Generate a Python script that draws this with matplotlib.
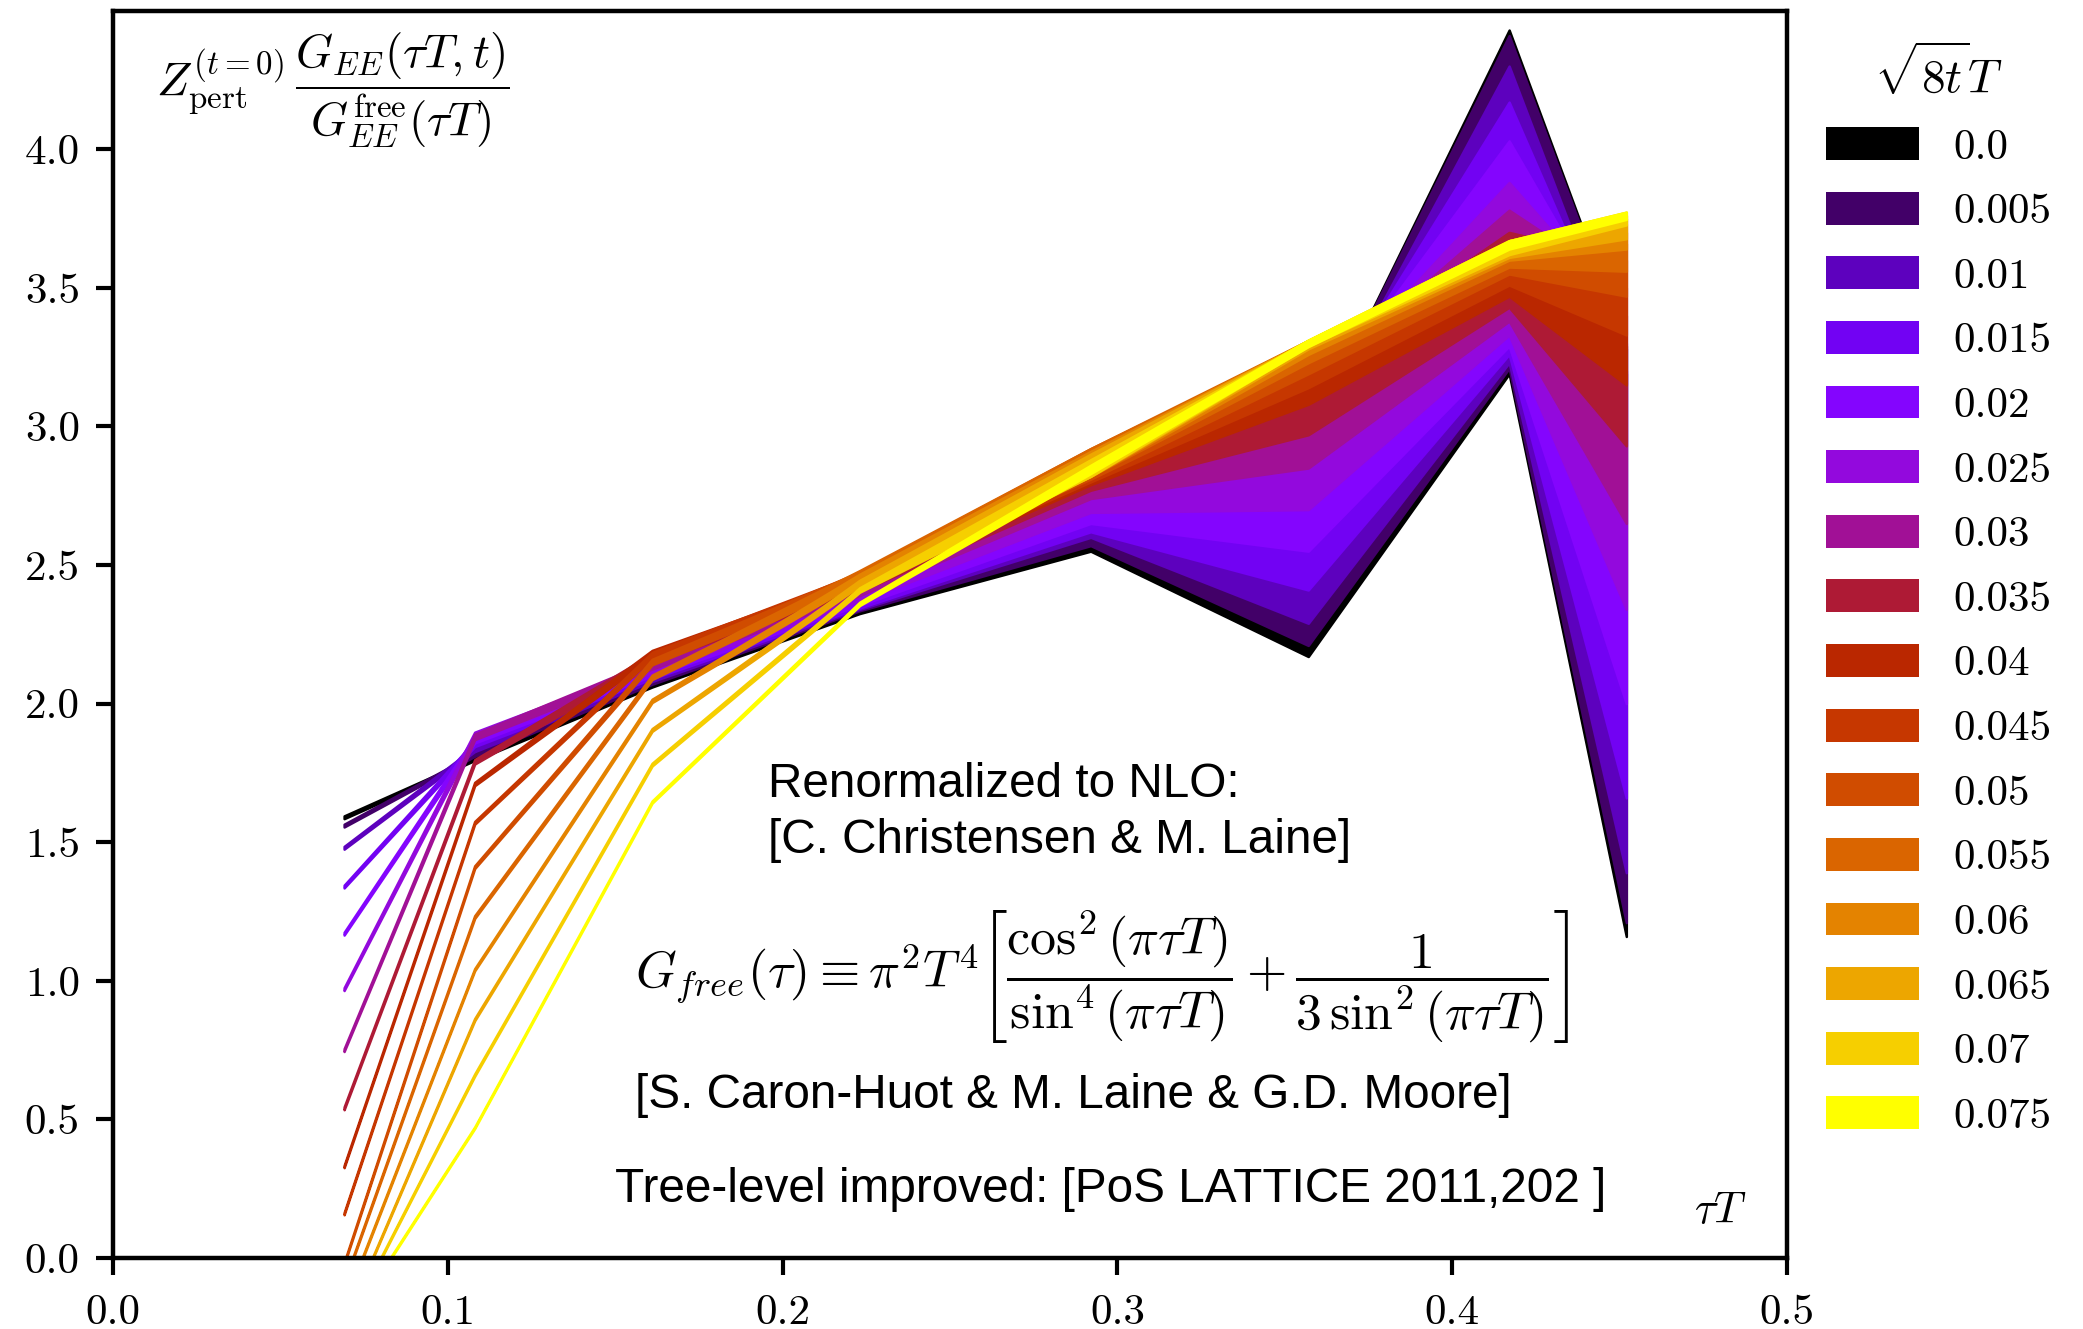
import matplotlib
matplotlib.use('Agg')
import matplotlib.pyplot as plt
from matplotlib.patches import Patch
import numpy as np

plt.rcParams['mathtext.fontset'] = 'cm'
plt.rcParams['font.family'] = ['cmr10']
plt.rcParams['axes.formatter.use_mathtext'] = True

# tau*T positions of the correlator points
tauT = [0.069, 0.108, 0.161, 0.223, 0.292, 0.357, 0.417, 0.452]

# flow radius sqrt(8t)T for each curve
flow_labels = ['0.0', '0.005', '0.01', '0.015', '0.02', '0.025', '0.03', '0.035',
               '0.04', '0.045', '0.05', '0.055', '0.06', '0.065', '0.07', '0.075']

# normalized correlator, one row per flow radius
corr = [
    [1.59, 1.80, 2.075, 2.36, 2.70, 2.56, 3.81, 2.225],
    [1.56, 1.815, 2.085, 2.365, 2.71, 2.58, 3.81, 2.245],
    [1.48, 1.835, 2.095, 2.37, 2.725, 2.62, 3.765, 2.29],
    [1.34, 1.855, 2.105, 2.375, 2.735, 2.705, 3.715, 2.43],
    [1.17, 1.87, 2.115, 2.385, 2.755, 2.80, 3.66, 2.65],
    [0.97, 1.885, 2.125, 2.395, 2.78, 2.90, 3.605, 2.87],
    [0.75, 1.88, 2.14, 2.41, 2.81, 3.00, 3.58, 3.075],
    [0.54, 1.79, 2.165, 2.425, 2.83, 3.085, 3.565, 3.265],
    [0.33, 1.71, 2.18, 2.44, 2.845, 3.165, 3.565, 3.405],
    [0.16, 1.57, 2.175, 2.45, 2.855, 3.21, 3.585, 3.515],
    [-0.02, 1.41, 2.15, 2.46, 2.865, 3.245, 3.61, 3.60],
    [-0.09, 1.23, 2.095, 2.465, 2.87, 3.27, 3.62, 3.655],
    [-0.17, 1.04, 2.01, 2.455, 2.865, 3.285, 3.635, 3.70],
    [-0.24, 0.86, 1.905, 2.435, 2.86, 3.295, 3.64, 3.72],
    [-0.26, 0.66, 1.78, 2.41, 2.85, 3.30, 3.645, 3.75],
    [-0.26, 0.47, 1.645, 2.36, 2.845, 3.30, 3.655, 3.76],
]

# statistical errors
corr_err = [
    [0.005, 0.005, 0.015, 0.035, 0.15, 0.39, 0.62, 1.065],
    [0.005, 0.005, 0.015, 0.03, 0.14, 0.37, 0.60, 1.035],
    [0.005, 0.008, 0.015, 0.03, 0.125, 0.33, 0.535, 0.90],
    [0.005, 0.01, 0.015, 0.03, 0.115, 0.295, 0.455, 0.77],
    [0.005, 0.012, 0.015, 0.03, 0.105, 0.25, 0.37, 0.65],
    [0.005, 0.012, 0.015, 0.025, 0.09, 0.20, 0.275, 0.53],
    [0.005, 0.01, 0.015, 0.02, 0.07, 0.15, 0.20, 0.425],
    [0.005, 0.008, 0.015, 0.02, 0.06, 0.115, 0.135, 0.335],
    [0.004, 0.006, 0.012, 0.02, 0.055, 0.085, 0.095, 0.255],
    [0.004, 0.005, 0.01, 0.02, 0.055, 0.07, 0.075, 0.185],
    [0.004, 0.005, 0.01, 0.015, 0.055, 0.055, 0.06, 0.13],
    [0.004, 0.005, 0.008, 0.015, 0.05, 0.04, 0.045, 0.095],
    [0.004, 0.004, 0.006, 0.012, 0.045, 0.025, 0.035, 0.06],
    [0.003, 0.004, 0.005, 0.01, 0.04, 0.015, 0.03, 0.043],
    [0.003, 0.004, 0.005, 0.008, 0.03, 0.01, 0.025, 0.023],
    [0.003, 0.003, 0.004, 0.006, 0.015, 0.012, 0.015, 0.013],
]


fig = plt.figure(figsize=(10.415, 6.645), dpi=200)
ax = fig.add_axes([0.0543, 0.0534, 0.8036, 0.9386])

cmap = plt.get_cmap('gnuplot')
n = len(flow_labels)
colors = [cmap(i / (n - 1)) for i in range(n)]

x = np.array(tauT)
for i in range(n):
    y = np.array(corr[i])
    e = np.array(corr_err[i])
    ax.fill_between(x, y - e, y + e, facecolor=colors[i], edgecolor=colors[i], linewidth=0.9)

ax.set_xlim(0, 0.5)
ax.set_ylim(0, 4.5)
ax.set_xticks(np.arange(0, 0.51, 0.1))
ax.set_yticks(np.arange(0, 4.01, 0.5))
ax.xaxis.set_major_formatter(plt.FormatStrFormatter('%.1f'))
ax.yaxis.set_major_formatter(plt.FormatStrFormatter('%.1f'))
ax.tick_params(labelsize=15.5, width=1.5, length=6, direction='out')
ax.tick_params(axis='x', pad=7)
ax.tick_params(axis='y', pad=6)
for s in ax.spines.values():
    s.set_linewidth(1.6)

ax.text(0.131, 0.937,
        r'$Z^{(t=0)}_{\mathrm{pert}}\,\dfrac{G_{EE}(\tau T,t)}{G^{\mathrm{free}}_{EE}(\tau T)}$',
        transform=ax.transAxes, ha='center', va='center', fontsize=17)
ax.text(0.976, 0.037, r'$\tau T$', transform=ax.transAxes, ha='right', va='center', fontsize=16)

sans = 'Liberation Sans'
ax.text(0.391, 0.357, 'Renormalized to NLO:\n[C. Christensen & M. Laine]',
        transform=ax.transAxes, ha='left', va='center', fontsize=17.2, family=sans, linespacing=1.3)
ax.text(0.312, 0.226,
        r'$G_{free}(\tau) \equiv \pi^2 T^4 \left[\dfrac{\cos^2(\pi\tau T)}{\sin^4(\pi\tau T)}'
        r' + \dfrac{1}{3\,\sin^2(\pi\tau T)}\right]$',
        transform=ax.transAxes, ha='left', va='center', fontsize=18.7)
ax.text(0.312, 0.130, '[S. Caron-Huot & M. Laine & G.D. Moore]',
        transform=ax.transAxes, ha='left', va='center', fontsize=17.2, family=sans)
ax.text(0.300, 0.055, 'Tree-level improved: [PoS LATTICE 2011,202 ]',
        transform=ax.transAxes, ha='left', va='center', fontsize=17.2, family=sans)

handles = [Patch(facecolor=c, edgecolor='none') for c in colors]
leg = fig.legend(handles, flow_labels, title=r'$\sqrt{8t}T$', loc='upper left',
                 bbox_to_anchor=(0.858, 0.996), frameon=False, fontsize=15.5, title_fontsize=17,
                 handlelength=2.15, handleheight=0.8, handletextpad=0.8, labelspacing=0.585)

fig.savefig('out.png', dpi=200)
